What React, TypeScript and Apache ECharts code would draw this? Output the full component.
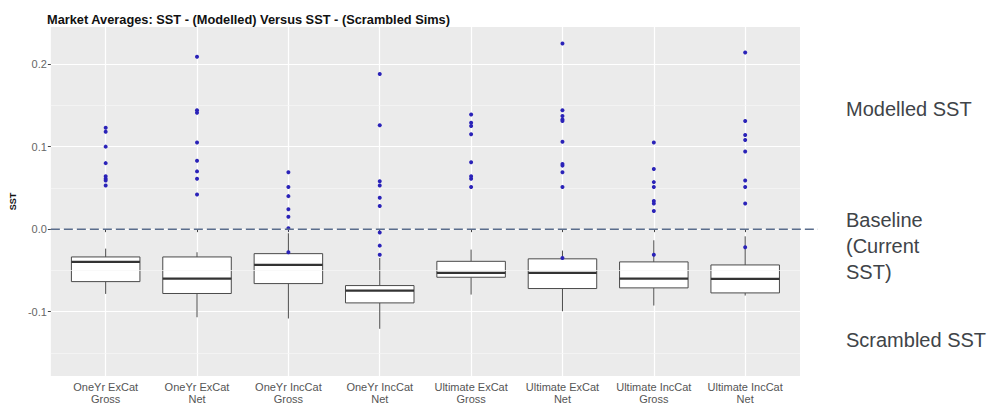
import { useEffect, useRef } from "react";
import * as echarts from "echarts";

const categories = [
  "OneYr ExCat\nGross",
  "OneYr ExCat\nNet",
  "OneYr IncCat\nGross",
  "OneYr IncCat\nNet",
  "Ultimate ExCat\nGross",
  "Ultimate ExCat\nNet",
  "Ultimate IncCat\nGross",
  "Ultimate IncCat\nNet",
];

// Scrambled sims: [lower whisker, Q1, median, Q3, upper whisker]
const scrambledBoxes = [
  [-0.0785, -0.0636, -0.0397, -0.0337, -0.0236],
  [-0.1068, -0.078, -0.06, -0.0337, -0.028],
  [-0.1083, -0.066, -0.0434, -0.0297, -0.005],
  [-0.1208, -0.0894, -0.0745, -0.0684, -0.035],
  [-0.0793, -0.0583, -0.053, -0.039, -0.0248],
  [-0.0995, -0.072, -0.053, -0.036, -0.026],
  [-0.0926, -0.0712, -0.06, -0.0397, -0.0135],
  [-0.0805, -0.0773, -0.0603, -0.0434, -0.0087],
];

// Modelled SST points per category
const modelledOneYrExCatGross = [0.123, 0.118, 0.1, 0.08, 0.064, 0.061, 0.059, 0.053];
const modelledOneYrExCatNet = [0.209, 0.144, 0.141, 0.105, 0.083, 0.07, 0.061, 0.042];
const modelledOneYrIncCatGross = [0.069, 0.051, 0.04, 0.024, 0.015, 0.001, -0.028];
const modelledOneYrIncCatNet = [0.188, 0.126, 0.058, 0.053, 0.038, 0.028, -0.004, -0.02, -0.031];
const modelledUltExCatGross = [0.139, 0.129, 0.125, 0.115, 0.081, 0.064, 0.061, 0.051];
const modelledUltExCatNet = [0.225, 0.144, 0.137, 0.133, 0.131, 0.106, 0.079, 0.077, 0.069, 0.051, -0.035];
const modelledUltIncCatGross = [0.105, 0.073, 0.057, 0.051, 0.034, 0.031, 0.022, -0.031];
const modelledUltIncCatNet = [0.214, 0.131, 0.114, 0.108, 0.094, 0.059, 0.051, 0.031, -0.022];

const modelled = [
  modelledOneYrExCatGross,
  modelledOneYrExCatNet,
  modelledOneYrIncCatGross,
  modelledOneYrIncCatNet,
  modelledUltExCatGross,
  modelledUltExCatNet,
  modelledUltIncCatGross,
  modelledUltIncCatNet,
];

const yTicks = [-0.1, 0, 0.1, 0.2];
const yMinorTicks = [-0.15, -0.05, 0.05, 0.15];
const baselineValue = 0;

const titleText = "Market Averages: SST - (Modelled) Versus SST - (Scrambled Sims)";
const yAxisTitle = "SST";
const annotationModelled = "Modelled SST";
const annotationBaseline = "Baseline\n(Current\nSST)";
const annotationScrambled = "Scrambled SST";

const FONT = "'Liberation Sans', Arial, Helvetica, sans-serif";

export default function App() {
  const ref = useRef<HTMLDivElement>(null);

  useEffect(() => {
    if (!ref.current) return;
    const chart = echarts.init(ref.current, undefined, { renderer: "svg" });
    const positions = categories.map((_, i) => i + 1);

    const boxData = scrambledBoxes.map((b, i) => [i + 1, ...b]);
    const pointData: number[][] = [];
    modelled.forEach((arr, i) => arr.forEach((v) => pointData.push([i + 1, v])));

    const option: any = {
      animation: false,
      backgroundColor: "#ffffff",
      grid: {
        left: 45,
        right: 195,
        top: 27,
        bottom: 28,
        show: true,
        backgroundColor: "#ebebeb",
        borderWidth: 0,
      },
      xAxis: {
        type: "value",
        min: 0.4,
        max: 8.6,
        axisLine: { show: false },
        axisTick: {
          show: true,
          customValues: positions,
          length: 3,
          lineStyle: { color: "#444", width: 1 },
        },
        axisLabel: {
          customValues: positions,
          formatter: (v: number) => categories[Math.round(v) - 1] ?? "",
          fontFamily: FONT,
          fontSize: 11,
          lineHeight: 12,
          color: "#555",
          margin: 5,
        },
        splitLine: { show: true, lineStyle: { color: "#ffffff", width: 1.2 } },
      },
      yAxis: {
        type: "value",
        min: -0.178,
        max: 0.245,
        name: yAxisTitle,
        nameLocation: "middle",
        nameGap: 21,
        nameTextStyle: { fontFamily: FONT, fontSize: 9, fontWeight: "bold", color: "#111" },
        axisLine: { show: false },
        axisTick: {
          show: true,
          customValues: yTicks,
          length: 3,
          lineStyle: { color: "#444", width: 1 },
        },
        axisLabel: {
          customValues: yTicks,
          formatter: (v: number) => v.toFixed(1),
          fontFamily: FONT,
          fontSize: 11,
          color: "#666",
          margin: 4,
        },
        splitLine: { show: true, lineStyle: { color: "#ffffff", width: 1.2 } },
      },
      series: [
        {
          type: "custom",
          name: "Scrambled",
          data: boxData,
          encode: { x: 0, y: [1, 2, 3, 4, 5] },
          z: 3,
          renderItem: (params: any, api: any) => {
            const x = api.value(0);
            const pMin = api.coord([x, api.value(1)]);
            const pQ1 = api.coord([x, api.value(2)]);
            const pMed = api.coord([x, api.value(3)]);
            const pQ3 = api.coord([x, api.value(4)]);
            const pMax = api.coord([x, api.value(5)]);
            const half = api.size([1, 0])[0] * 0.375;
            const stroke = "#4a4a4a";
            return {
              type: "group",
              children: [
                {
                  type: "line",
                  shape: { x1: pMax[0], y1: pMax[1], x2: pQ3[0], y2: pQ3[1] },
                  style: { stroke, lineWidth: 1 },
                },
                {
                  type: "line",
                  shape: { x1: pQ1[0], y1: pQ1[1], x2: pMin[0], y2: pMin[1] },
                  style: { stroke, lineWidth: 1 },
                },
                {
                  type: "rect",
                  shape: { x: pMed[0] - half, y: pQ3[1], width: half * 2, height: pQ1[1] - pQ3[1] },
                  style: { fill: "#ffffff", stroke, lineWidth: 1 },
                },
                {
                  type: "line",
                  shape: { x1: pMed[0] - half, y1: pMed[1], x2: pMed[0] + half, y2: pMed[1] },
                  style: { stroke: "#333", lineWidth: 2.2 },
                },
              ],
            };
          },
        },
        {
          type: "scatter",
          name: "Modelled",
          data: pointData,
          symbol: "circle",
          symbolSize: 4,
          z: 5,
          itemStyle: { color: "#2a22b8", opacity: 1 },
        },
        {
          type: "line",
          name: "minor",
          data: [],
          silent: true,
          markLine: {
            silent: true,
            symbol: ["none", "none"],
            label: { show: false },
            lineStyle: { color: "#f6f6f6", width: 0.7, type: "solid" },
            data: yMinorTicks.map((v) => ({ yAxis: v })),
          },
          z: 1,
        },
      ],
    };

    chart.setOption(option);

    const y0 = chart.convertToPixel({ gridIndex: 0 }, [1, baselineValue])[1];
    const xLeft = chart.convertToPixel({ gridIndex: 0 }, [0.4, baselineValue])[0];

    chart.setOption({
      graphic: [
        {
          type: "text",
          id: "title",
          x: 47,
          y: 19,
          style: {
            text: titleText,
            fill: "#111",
            fontSize: 12.8,
            fontWeight: "bold",
            fontFamily: FONT,
            verticalAlign: "middle",
          },
        },
        {
          type: "line",
          id: "baseline",
          z: 10,
          shape: { x1: xLeft, y1: y0, x2: 818, y2: y0 },
          style: { stroke: "#5a6d8c", lineWidth: 1.5, lineDash: [9, 4] },
        },
        {
          type: "text",
          id: "annModelled",
          x: 846,
          y: 109,
          style: {
            text: annotationModelled,
            fill: "#404448",
            fontSize: 20,
            fontFamily: FONT,
            verticalAlign: "middle",
          },
        },
        {
          type: "text",
          id: "annBaseline",
          x: 846,
          y: 207,
          style: {
            text: annotationBaseline,
            fill: "#404448",
            fontSize: 20,
            lineHeight: 26,
            fontFamily: FONT,
            verticalAlign: "top",
          },
        },
        {
          type: "text",
          id: "annScrambled",
          x: 846,
          y: 340,
          style: {
            text: annotationScrambled,
            fill: "#404448",
            fontSize: 20,
            fontFamily: FONT,
            verticalAlign: "middle",
          },
        },
      ],
    });

    return () => chart.dispose();
  }, []);

  return (
    <div
      ref={ref}
      style={{ position: "absolute", left: 0, top: 0, width: 995, height: 405 }}
    />
  );
}
